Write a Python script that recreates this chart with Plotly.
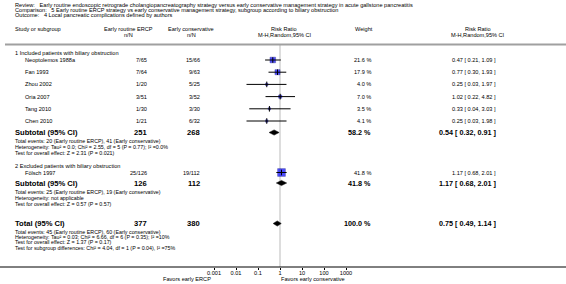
import plotly.graph_objects as go

W, H = 566, 284
AXIS_Y = 267  # pixel row of the axis baseline

title_lines = [
    "Review:   Early routine endoscopic retrograde cholangiopancreatography strategy versus early conservative management strategy in acute gallstone pancreatitis",
    "Comparison:   5 Early routine ERCP strategy vs early conservative management strategy, subgroup according to biliary obstruction",
    "Outcome:   4 Local pancreatic complications defined by authors",
]

# group 1
g1_name = "1 Included patients with biliary obstruction"
g1_studies = ["Neoptolemos 1988a", "Fan 1993", "Zhou 2002", "Oria 2007", "Tang 2010", "Chen 2010"]
g1_ercp = ["7/65", "7/64", "1/20", "3/51", "1/30", "1/21"]
g1_cons = ["15/66", "9/63", "5/25", "3/52", "3/30", "6/32"]
g1_weight = [21.6, 17.9, 4.0, 7.0, 3.5, 4.1]
g1_rr = [0.47, 0.77, 0.25, 1.02, 0.33, 0.25]
g1_lo = [0.21, 0.30, 0.03, 0.22, 0.04, 0.03]
g1_hi = [1.09, 1.93, 1.97, 4.82, 3.03, 1.98]
g1_sub = {"n1": "251", "n2": "268", "w": 58.2, "rr": 0.54, "lo": 0.32, "hi": 0.91}
g1_notes = [
    "Total events: 20 (Early routine ERCP), 41 (Early conservative)",
    "Heterogeneity: Tau² = 0.0; Chi² = 2.55, df = 5 (P = 0.77); I² =0.0%",
    "Test for overall effect: Z = 2.31 (P = 0.021)",
]

# group 2
g2_name = "2 Excluded patients with biliary obstruction"
g2_studies = ["Fölsch 1997"]
g2_ercp = ["25/126"]
g2_cons = ["19/112"]
g2_weight = [41.8]
g2_rr = [1.17]
g2_lo = [0.68]
g2_hi = [2.01]
g2_sub = {"n1": "126", "n2": "112", "w": 41.8, "rr": 1.17, "lo": 0.68, "hi": 2.01}
g2_notes = [
    "Total events: 25 (Early routine ERCP), 19 (Early conservative)",
    "Heterogeneity: not applicable",
    "Test for overall effect: Z = 0.57 (P = 0.57)",
]

total = {"n1": "377", "n2": "380", "w": 100.0, "rr": 0.75, "lo": 0.49, "hi": 1.14}
total_notes = [
    "Total events: 45 (Early routine ERCP), 60 (Early conservative)",
    "Heterogeneity: Tau² = 0.03; Chi² = 6.66, df = 6 (P = 0.35); I² =10%",
    "Test for overall effect: Z = 1.37 (P = 0.17)",
    "Test for subgroup differences: Chi² = 4.04, df = 1 (P = 0.04), I² =75%",
]

tick_vals = [0.001, 0.01, 0.1, 1, 10, 100, 1000]
tick_text = ["0.001", "0.01", "0.1", "1", "10", "100", "1000"]
favors_left = "Favors early ERCP"
favors_right = "Favors early conservative"

FONT = "Liberation Sans, Arial, sans-serif"
FS = 5.6
FSB = 7.6
BLUE = "#0000ff"

# column x positions (pixels)
X_NAME = 13
X_STUDY = 23
X_C1 = 149
X_C2 = 202
X_W = 373
X_CI = 498

fig = go.Figure()
ann = []


def txt(x, y, s, anchor="left", size=FS, bold=False):
    ann.append(dict(x=x / W, y=1 - y / H, xref="paper", yref="paper",
                    text=("<b>%s</b>" % s) if bold else s,
                    showarrow=False, xanchor=anchor, yanchor="middle",
                    font=dict(family=FONT, size=size, color="black")))


for i, t in enumerate(title_lines):
    txt(X_NAME, 5 + i * 5.2, t)

txt(X_NAME, 29, "Study or subgroup")
txt(128, 29, "Early routine ERCP", "center")
txt(128, 34.5, "n/N", "center")
txt(191, 29, "Early conservative", "center")
txt(191, 34.5, "n/N", "center")
txt(284, 29, "Risk Ratio", "center")
txt(285, 34.5, "M-H,Random,95% CI", "center")
txt(364, 29, "Weight", "center")
txt(478, 29, "Risk Ratio", "center")
txt(478, 34.5, "M-H,Random,95% CI", "center")

fig.add_shape(type="line", xref="paper", yref="paper", x0=5 / W, x1=1,
              y0=1 - 44.5 / H, y1=1 - 44.5 / H, line=dict(color="#a0a0a0", width=2))

# vertical line of no effect
fig.add_shape(type="line", xref="x", yref="y", x0=1, x1=1, y0=45, y1=AXIS_Y,
              line=dict(color="#dddddd", width=2), layer="below")


def ci_str(rr, lo, hi):
    return "%.2f [ %.2f, %.2f ]" % (rr, lo, hi)


def study_rows(y0, studies, c1, c2, w, rr, lo, hi, step=12.2):
    ys = [y0 + i * step for i in range(len(studies))]
    for y, s, a, b, ww, r, l, h in zip(ys, studies, c1, c2, w, rr, lo, hi):
        txt(X_STUDY, y, s)
        txt(X_C1, y, a, "right")
        txt(X_C2, y, b, "right")
        txt(X_W, y, "%.1f %%" % ww, "right")
        txt(X_CI, y, ci_str(r, l, h), "right")
    fig.add_trace(go.Scatter(x=rr, y=ys, mode="markers", hoverinfo="skip",
                             marker=dict(symbol="square", color=BLUE,
                                         size=[1.2 * v ** 0.5 for v in w],
                                         line=dict(width=0.5, color="#000080"))))
    xs, yy = [], []
    for y, l, h in zip(ys, lo, hi):
        xs += [l, h, None]
        yy += [y, y, None]
    fig.add_trace(go.Scatter(x=xs, y=yy, mode="lines", hoverinfo="skip",
                             line=dict(color="black", width=1)))
    fig.add_trace(go.Scatter(x=rr, y=ys, mode="markers", hoverinfo="skip",
                             marker=dict(symbol="line-ns", size=4, line=dict(color="black", width=1))))


def diamond(y, d, label, notes, note_step=6):
    txt(X_NAME, y, label, bold=True, size=FSB)
    txt(X_C1, y, d["n1"], "right", size=FSB, bold=True)
    txt(X_C2, y, d["n2"], "right", size=FSB, bold=True)
    txt(X_W, y, "%.1f %%" % d["w"], "right", size=FSB * 0.95, bold=True)
    txt(X_CI, y, ci_str(d["rr"], d["lo"], d["hi"]), "right", size=FSB * 0.95, bold=True)
    h = 2.6
    fig.add_trace(go.Scatter(x=[d["lo"], d["rr"], d["hi"], d["rr"], d["lo"]],
                             y=[y, y - h, y, y + h, y], mode="lines", fill="toself",
                             fillcolor="black", line=dict(color="black", width=0.5),
                             hoverinfo="skip"))
    for i, n in enumerate(notes):
        txt(X_NAME, y + 8.5 + i * note_step, n, size=FS * 0.95)


txt(X_NAME, 53, g1_name)
study_rows(60, g1_studies, g1_ercp, g1_cons, g1_weight, g1_rr, g1_lo, g1_hi)
diamond(132.5, g1_sub, "Subtotal (95% CI)", g1_notes)

txt(X_NAME, 166, g2_name)
study_rows(172.5, g2_studies, g2_ercp, g2_cons, g2_weight, g2_rr, g2_lo, g2_hi)
diamond(183, g2_sub, "Subtotal (95% CI)", g2_notes)

diamond(223.5, total, "Total (95% CI)", total_notes, note_step=5.2)

# axis baseline across full width
fig.add_shape(type="line", xref="paper", yref="paper", x0=0, x1=1,
              y0=1 - AXIS_Y / H, y1=1 - AXIS_Y / H, line=dict(color="black", width=1))
txt(213, 278.5, favors_left, "right")
txt(279, 278.5, favors_right, "left")

fig.update_layout(
    width=W, height=H, margin=dict(l=0, r=0, t=0, b=0),
    paper_bgcolor="white", plot_bgcolor="rgba(0,0,0,0)",
    showlegend=False, annotations=ann,
    xaxis=dict(type="log", range=[-3.5, 3.5], domain=[203 / W, 357 / W], anchor="y",
               showgrid=False, zeroline=False, showline=False,
               ticks="outside", ticklen=2, tickcolor="black", tickwidth=1,
               ticklabelstandoff=-2,
               tickvals=tick_vals, ticktext=tick_text,
               tickfont=dict(family=FONT, size=FS, color="black"), fixedrange=True),
    yaxis=dict(range=[AXIS_Y, 0], domain=[1 - AXIS_Y / H, 1], visible=False, fixedrange=True),
)

fig.write_html("out.html", config={"displayModeBar": False},
               post_script="document.body.style.margin='0';document.body.style.overflow='hidden';")
